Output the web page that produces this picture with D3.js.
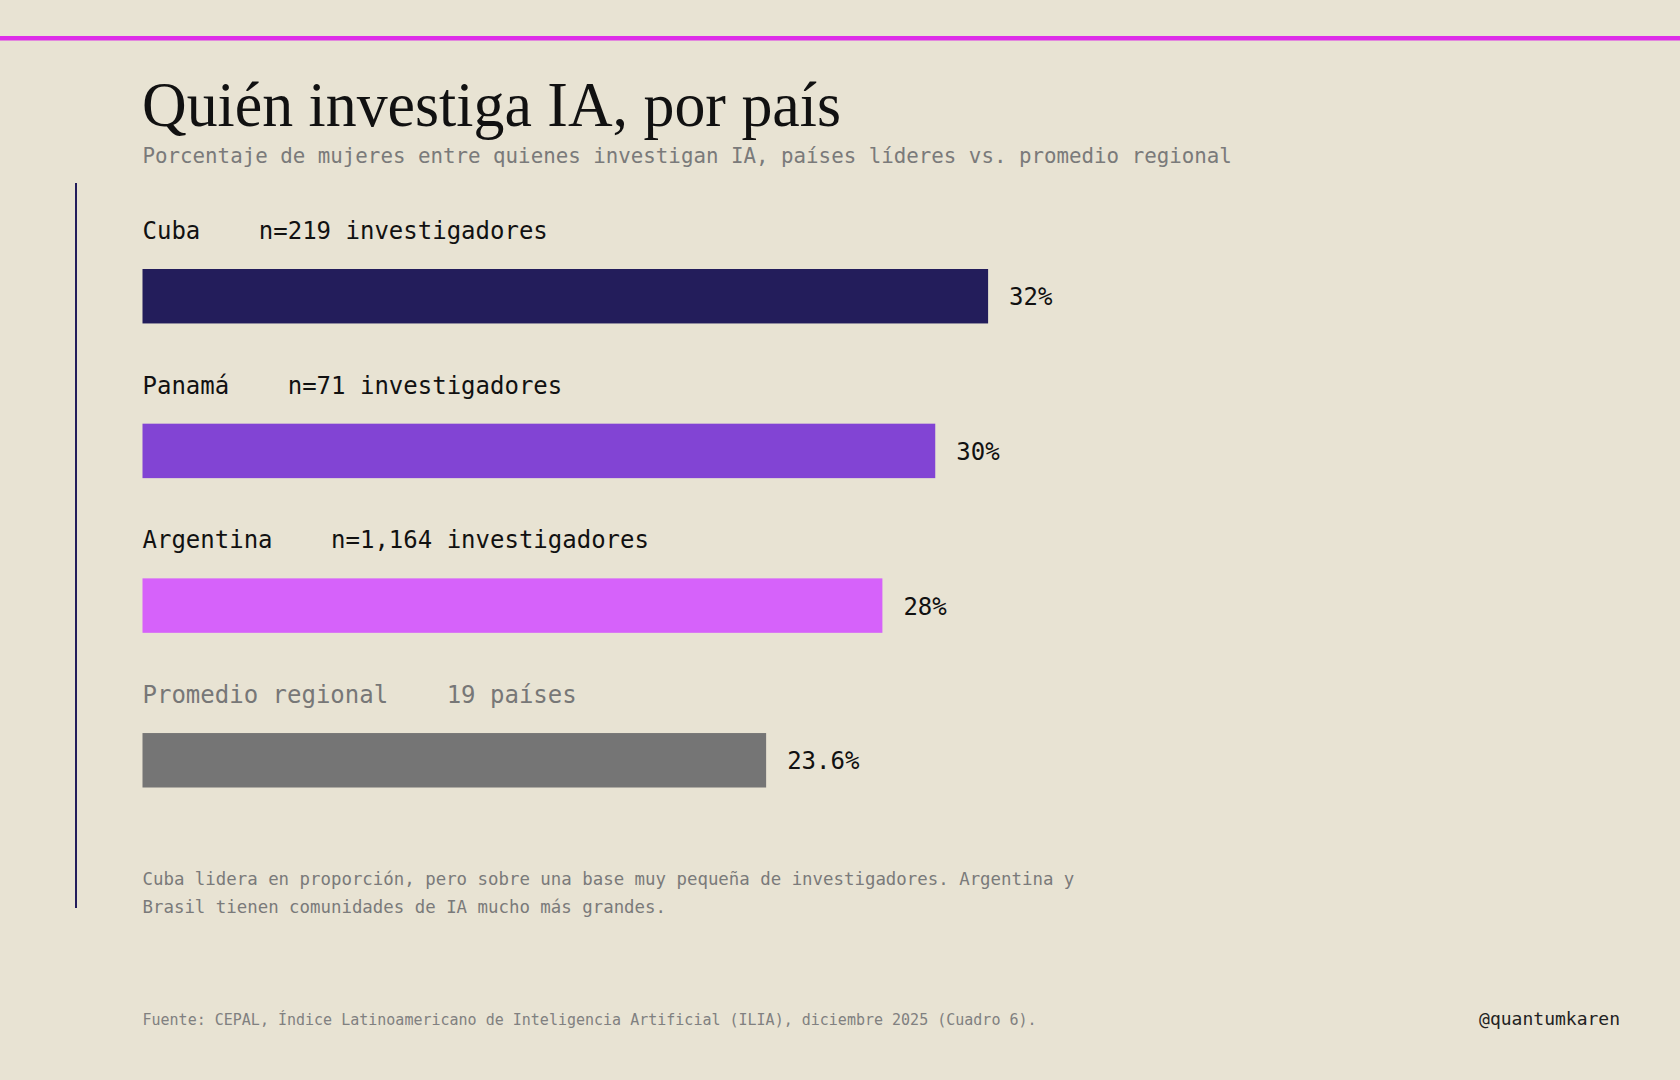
<!DOCTYPE html>
<html>
<head>
<meta charset="utf-8">
<title>Quién investiga IA, por país</title>
<script src="https://d3js.org/d3.v7.min.js"></script>
<style>
    body {
        margin: 0;
        overflow: hidden;
        background: #e8e3d3;
    }
    text {
        font-family: "DejaVu Sans Mono", monospace;
    }
</style>
</head>
<body>
<script>
    const countries = ["Cuba", "Panamá", "Argentina", "Promedio regional"];
    const details = ["n=219 investigadores", "n=71 investigadores", "n=1,164 investigadores", "19 países"];
    const values = [32, 30, 28, 23.6];
    const valueLabels = ["32%", "30%", "28%", "23.6%"];

    const barColors = ["#231d5b", "#8244d4", "#d662fa", "#757575"];

    const width = 1680;
    const height = 1080;

    const svg = d3.select("body")
        .append("svg")
        .attr("width", width)
        .attr("height", height);

    svg.append("rect")
        .attr("width", width)
        .attr("height", height)
        .attr("fill", "#e8e3d3");

    // top accent line
    svg.append("rect")
        .attr("x", 0)
        .attr("y", 36)
        .attr("width", width)
        .attr("height", 4.5)
        .attr("fill", "#dd2de8");

    svg.append("text")
        .attr("x", 142)
        .attr("y", 126)
        .style("font-family", "'Liberation Serif', 'DejaVu Serif', serif")
        .style("font-size", "63px")
        .attr("fill", "#111")
        .attr("textLength", 699)
        .attr("lengthAdjust", "spacingAndGlyphs")
        .text("Quién investiga IA, por país");

    svg.append("text")
        .attr("x", 142.5)
        .attr("y", 163)
        .style("font-size", "20.8px")
        .attr("fill", "#7a7a7a")
        .text("Porcentaje de mujeres entre quienes investigan IA, países líderes vs. promedio regional");

    // left rule
    svg.append("line")
        .attr("x1", 76).attr("x2", 76)
        .attr("y1", 183).attr("y2", 908)
        .attr("stroke", "#231d5b")
        .attr("stroke-width", 2);

    const x = d3.scaleLinear()
        .domain([0, 40])
        .range([142.5, 1199.5]);

    const y = d3.scaleBand()
        .domain(countries)
        .range([269, 787.5])
        .paddingInner(0.648)
        .paddingOuter(0);

    const color = d3.scaleOrdinal().domain(countries).range(barColors);

    const row = svg.append("g")
        .selectAll("g")
        .data(countries)
        .join("g")
        .attr("transform", d => "translate(0," + y(d) + ")");

    row.append("rect")
        .attr("x", x(0))
        .attr("y", 0)
        .attr("width", (d, i) => x(values[i]) - x(0))
        .attr("height", y.bandwidth())
        .attr("fill", d => color(d));

    const label = row.append("text")
        .attr("x", x(0))
        .attr("y", -30)
        .style("font-size", "24px")
        .attr("fill", (d, i) => i === 3 ? "#777" : "#111");
    label.append("tspan").text(d => d);
    label.append("tspan").attr("dx", 58.5).text((d, i) => details[i]);

    row.append("text")
        .attr("x", (d, i) => x(values[i]) + 21)
        .attr("y", y.bandwidth() / 2 + 9)
        .style("font-size", "24px")
        .attr("fill", "#111")
        .text((d, i) => valueLabels[i]);

    const note = svg.append("text")
        .attr("x", 142.5)
        .attr("y", 885)
        .style("font-size", "17.4px")
        .attr("fill", "#7a7a7a");
    note.append("tspan").attr("x", 142.5).text("Cuba lidera en proporción, pero sobre una base muy pequeña de investigadores. Argentina y");
    note.append("tspan").attr("x", 142.5).attr("dy", 28).text("Brasil tienen comunidades de IA mucho más grandes.");

    svg.append("text")
        .attr("x", 142.5)
        .attr("y", 1025)
        .style("font-size", "15px")
        .attr("fill", "#808080")
        .text("Fuente: CEPAL, Índice Latinoamericano de Inteligencia Artificial (ILIA), diciembre 2025 (Cuadro 6).");

    svg.append("text")
        .attr("x", 1620)
        .attr("y", 1025)
        .attr("text-anchor", "end")
        .style("font-size", "18px")
        .attr("fill", "#222")
        .text("@quantumkaren");
</script>
</body>
</html>
